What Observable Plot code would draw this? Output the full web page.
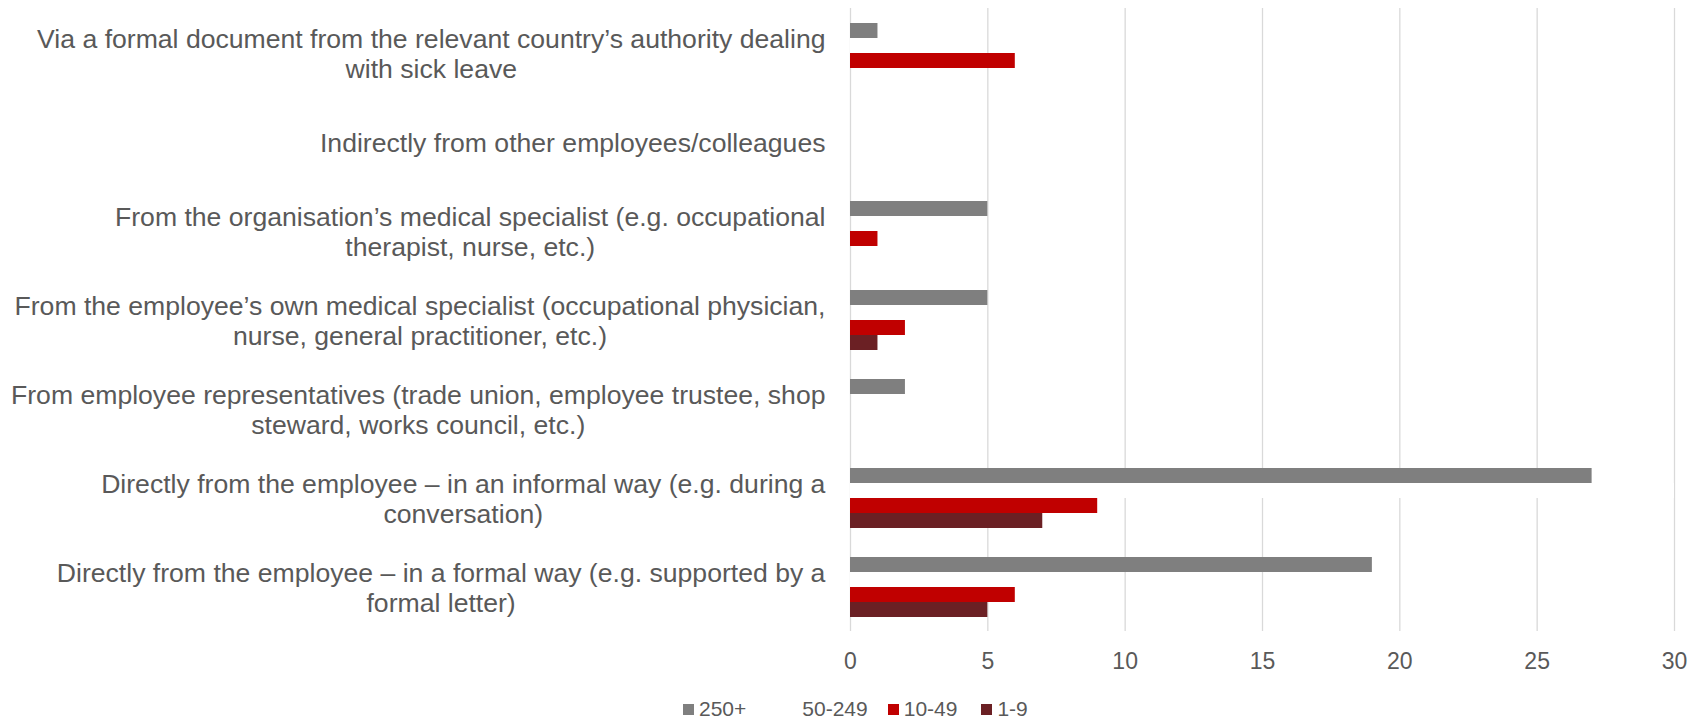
<!DOCTYPE html>
<html><head><meta charset="utf-8">
<script src="https://cdn.jsdelivr.net/npm/d3@7"></script>
<script src="https://cdn.jsdelivr.net/npm/@observablehq/plot@0.6"></script>
<style>
body{margin:0;background:#fff;font-family:"Liberation Sans",Arial,sans-serif;}
#chart{width:1700px;height:688px;}
#legend{display:flex;justify-content:flex-start;align-items:center;height:33px;font-size:21px;color:#595959;padding-left:683px;padding-top:9px;box-sizing:border-box;}
.item{display:flex;align-items:center;gap:5px}
.sw{width:11px;height:11px;display:inline-block}
</style></head><body><div id="chart"></div><div id="legend"></div>
<script>
const categories = [
  "Via a formal document from the relevant country’s authority dealing with sick leave",
  "Indirectly from other employees/colleagues",
  "From the organisation’s medical specialist (e.g. occupational therapist, nurse, etc.)",
  "From the employee’s own medical specialist (occupational physician, nurse, general practitioner, etc.)",
  "From employee representatives (trade union, employee trustee, shop steward, works council, etc.)",
  "Directly from the employee – in an informal way (e.g. during a conversation)",
  "Directly from the employee – in a formal way (e.g. supported by a formal letter)"
];
const labelLines = [
  "Via a formal document from the relevant country’s authority dealing\nwith sick leave",
  "Indirectly from other employees/colleagues",
  "From the organisation’s medical specialist (e.g. occupational\ntherapist, nurse, etc.)",
  "From the employee’s own medical specialist (occupational physician,\nnurse, general practitioner, etc.)",
  "From employee representatives (trade union, employee trustee, shop\nsteward, works council, etc.)",
  "Directly from the employee – in an informal way (e.g. during a\nconversation)",
  "Directly from the employee – in a formal way (e.g. supported by a\nformal letter)"
];
const series = ["250+", "50-249", "10-49", "1-9"];
const colors = ["#7f7f7f", "#ffffff", "#c00000", "#6b2024"];
const values250 = [1, 0, 5, 5, 2, 27, 19];
const values50 = [3, 0, 0, 0, 0, 30, 7];
const values10 = [6, 0, 1, 2, 0, 9, 6];
const values1 = [0, 0, 0, 1, 0, 7, 5];
const xTicks = [0, 5, 10, 15, 20, 25, 30];
const legendGaps = [40, 20, 24, 0];

const seriesValues = [values250, values50, values10, values1];
const data = [];
series.forEach((s, i) => categories.forEach((c, j) => data.push({category: c, series: s, value: seriesValues[i][j]})));

const plot = Plot.plot({
  width: 1700, height: 688,
  marginLeft: 850, marginRight: 26, marginTop: 7, marginBottom: 57,
  style: {fontFamily: '"Liberation Sans", Arial, sans-serif', background: "#fff", color: "#595959"},
  x: {domain: [0, 30], axis: null},
  y: {domain: series, paddingInner: 0, paddingOuter: 0.925, axis: null},
  fy: {domain: categories, padding: 0, axis: null},
  color: {domain: series, range: colors},
  marks: [
    Plot.gridX(xTicks, {stroke: "#d9d9d9", strokeOpacity: 1, strokeWidth: 1.3}),
    Plot.barX(data, {fy: "category", y: "series", x: "value", fill: "series", inset: 0}),
    Plot.text(categories, {fy: d => d, text: (d, i) => labelLines[i], frameAnchor: "left", dx: -25,
      textAnchor: "end", fontSize: 26.6, fill: "#595959", lineHeight: 1.14, className: "catlabel"}),
    Plot.axisX(xTicks, {tickSize: 0, tickPadding: 21, fontSize: 23, fill: "#595959", label: null})
  ]
});
document.getElementById("chart").append(plot);

// center the wrapped lines of each category label (Excel style), keeping the block right-aligned
plot.querySelectorAll(".catlabel text").forEach(t => {
  const spans = t.querySelectorAll("tspan");
  if (spans.length < 2) return;
  const w = t.getBBox().width;
  t.setAttribute("text-anchor", "middle");
  spans.forEach(s => {
    const x0 = parseFloat(s.getAttribute("x") || 0);
    s.setAttribute("x", x0 - w / 2);
  });
});

const legend = document.getElementById("legend");
series.forEach((s, i) => {
  const item = document.createElement("div");
  item.className = "item";
  item.style.marginRight = legendGaps[i] + "px";
  const sw = document.createElement("span");
  sw.className = "sw";
  sw.style.background = colors[i];
  const lab = document.createElement("span");
  lab.textContent = s;
  item.append(sw, lab);
  legend.append(item);
});
</script>
</body></html>
